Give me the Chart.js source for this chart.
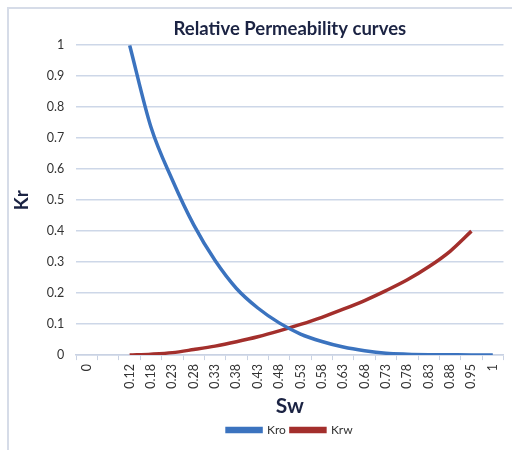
<!DOCTYPE html>
<html>
<head>
<meta charset="utf-8">
<script src="https://cdn.jsdelivr.net/npm/chart.js@4.4.0/dist/chart.umd.min.js"></script>
<style>
  html, body { margin: 0; padding: 0; background: #fff; }
  #frame {
    position: absolute; left: 7px; top: 7px; width: 505px; height: 443px;
    border-left: 2px solid #d6dce8; border-top: 2px solid #d6dce8;
    box-sizing: border-box;
  }
  #wrap { position: absolute; left: 0; top: 0; width: 512px; height: 450px; }
</style>
</head>
<body>
<div id="frame"></div>
<div id="wrap"><canvas id="chart" width="512" height="450"></canvas></div>
<script>
// water saturation categories (blank slot kept like the original sheet)
const swLabels = ['0', '', '0.12', '0.18', '0.23', '0.28', '0.33', '0.38', '0.43', '0.48',
	'0.53', '0.58', '0.63', '0.68', '0.73', '0.78', '0.83', '0.88', '0.95', '1']

const kro = [null, null, 1.0, 0.735, 0.565, 0.42, 0.305, 0.215, 0.152, 0.104,
	0.068, 0.044, 0.026, 0.014, 0.006, 0.003, 0.0015, 0.001, 0.0005, 0.0005]

const krw = [null, null, 0.0, 0.003, 0.008, 0.018, 0.029, 0.043, 0.059, 0.078,
	0.099, 0.122, 0.148, 0.176, 0.208, 0.243, 0.285, 0.335, 0.4, null]

const font = 'Lato, "Open Sans", sans-serif'
const navy = '#1b2343'

new Chart(document.getElementById('chart'), {
	type: 'line',
	data: {
		labels: swLabels,
		datasets: [
			{
				label: 'Kro',
				data: kro,
				borderColor: '#3b73bf',
				backgroundColor: '#3b73bf',
				borderWidth: 3.5,
				pointRadius: 0,
				cubicInterpolationMode: 'monotone',
			},
			{
				label: 'Krw',
				data: krw,
				borderColor: '#a32f2c',
				backgroundColor: '#a32f2c',
				borderWidth: 3.5,
				pointRadius: 0,
				cubicInterpolationMode: 'monotone',
			},
		],
	},
	options: {
		responsive: false,
		animation: false,
		layout: { padding: { left: 10, right: 8, top: 0, bottom: 4 } },
		plugins: {
			title: {
				display: true,
				fullSize: false,
				text: 'Relative Permeability curves',
				color: navy,
				font: { family: font, size: 18.5, weight: 'bold' },
				padding: { top: 18, bottom: 5 },
			},
			legend: {
				position: 'bottom',
				fullSize: false,
				labels: {
					color: '#333',
					font: { family: font, size: 12 },
					boxWidth: 34,
					boxHeight: 3,
					padding: 5,
				},
			},
			tooltip: { enabled: false },
		},
		scales: {
			x: {
				type: 'category',
				offset: true,
				grid: {
					offset: true,
					drawOnChartArea: false,
					drawTicks: true,
					tickLength: 5,
					color: '#c9d2e3',
				},
				border: { color: '#c9d2e3', width: 1.5 },
				ticks: {
					color: '#333',
					font: { family: font, size: 12.5 },
					minRotation: 90,
					maxRotation: 90,
					autoSkip: false,
					padding: 4,
				},
				title: {
					display: true,
					text: 'Sw',
					color: navy,
					font: { family: font, size: 21, weight: 'bold' },
					padding: { top: 1, bottom: 0 },
				},
			},
			y: {
				min: 0,
				max: 1,
				ticks: {
					stepSize: 0.1,
					color: '#333',
					font: { family: font, size: 12.5 },
					padding: 12,
					callback: v => String(Number(v.toFixed(1))),
				},
				grid: { color: '#cdd7e8', lineWidth: 1.5, drawTicks: false },
				border: { display: false },
				title: {
					display: true,
					text: 'Kr',
					color: navy,
					font: { family: font, size: 19, weight: 'bold' },
					padding: { top: 0, bottom: 2 },
				},
			},
		},
	},
})
</script>
</body>
</html>
